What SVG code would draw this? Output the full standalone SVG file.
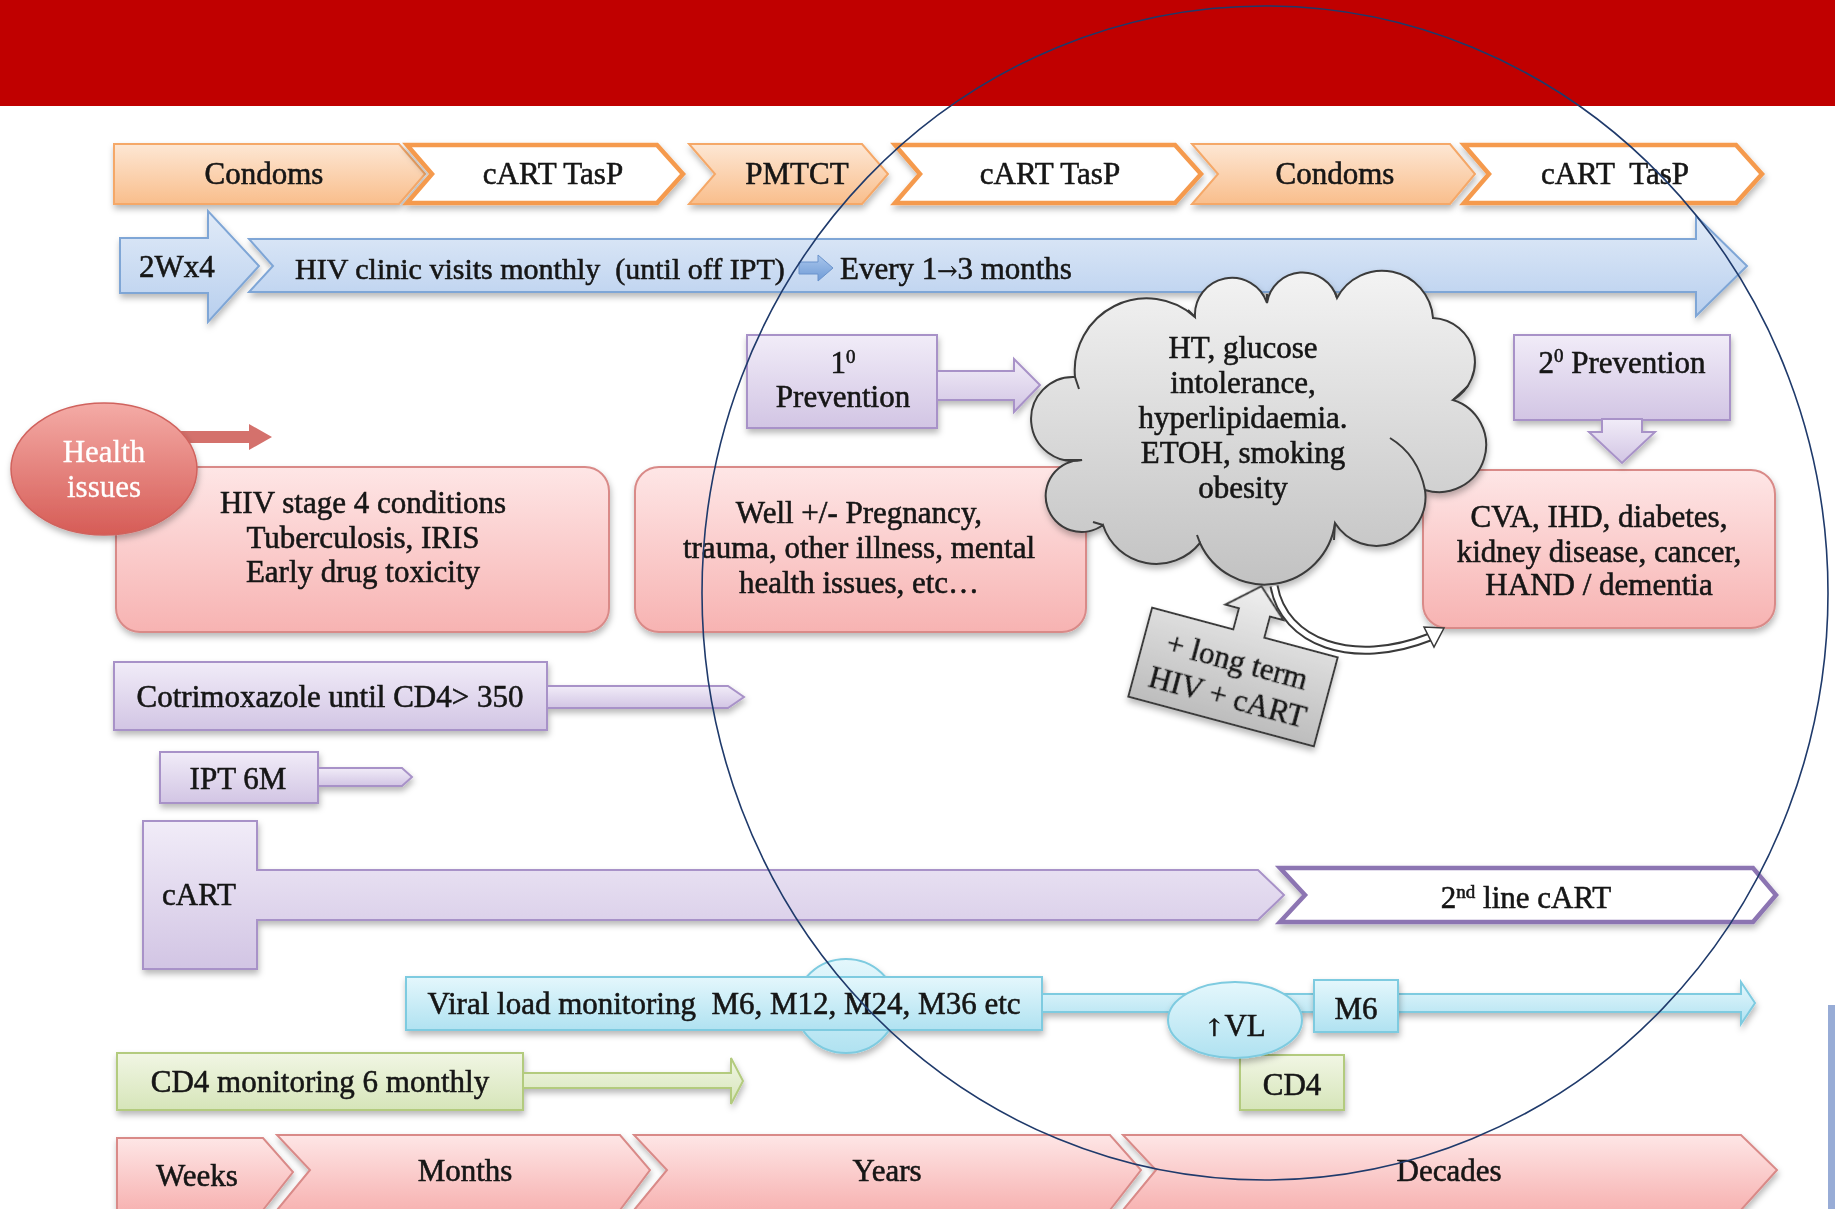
<svg xmlns="http://www.w3.org/2000/svg" width="1835" height="1209" viewBox="0 0 1835 1209">
<defs>
<style>
.t{font-family:"Liberation Serif","Times New Roman",serif;font-size:31px;fill:#141414;stroke:#141414;stroke-width:0.55px;text-anchor:middle}
.ts{text-anchor:start}
.ar{font-family:"DejaVu Serif",serif;font-size:24px}
.peach{fill:url(#gPeach);stroke:#F5A868;stroke-width:2}
.wOr{fill:#fff;stroke:#F59A4E;stroke-width:4.5}
.blue{fill:url(#gBlue);stroke:#7FA6D6;stroke-width:2}
.purp{fill:url(#gPurp);stroke:#A892C8;stroke-width:2}
.wPu{fill:#fff;stroke:#8C74B2;stroke-width:4.5}
.pink{fill:url(#gPink);stroke:#D98A88;stroke-width:2}
.cyan{fill:url(#gCyan);stroke:#7ECBE0;stroke-width:2}
.green{fill:url(#gGreen);stroke:#B3CB7E;stroke-width:2}
.sh{filter:url(#shadow)}
</style>
<filter id="shadow" x="-10%" y="-15%" width="125%" height="145%">
<feDropShadow dx="1" dy="4" stdDeviation="3" flood-color="#000" flood-opacity="0.28"/>
</filter>
<linearGradient id="gPeach" x1="0" y1="0" x2="0" y2="1"><stop offset="0" stop-color="#FDE7D4"/><stop offset="1" stop-color="#F9BE8C"/></linearGradient>
<linearGradient id="gBlue" x1="0" y1="0" x2="0" y2="1"><stop offset="0" stop-color="#E1EBF8"/><stop offset="1" stop-color="#B8CFEE"/></linearGradient>
<linearGradient id="gBlueD" x1="0" y1="0" x2="0" y2="1"><stop offset="0" stop-color="#A9C6EC"/><stop offset="1" stop-color="#6F9BD6"/></linearGradient>
<linearGradient id="gPurp" x1="0" y1="0" x2="0" y2="1"><stop offset="0" stop-color="#F1ECF8"/><stop offset="1" stop-color="#D2C5E4"/></linearGradient>
<linearGradient id="gPink" x1="0" y1="0" x2="0" y2="1"><stop offset="0" stop-color="#FEE6E6"/><stop offset="1" stop-color="#F7B3B2"/></linearGradient>
<linearGradient id="gCyan" x1="0" y1="0" x2="0" y2="1"><stop offset="0" stop-color="#E4F7FC"/><stop offset="1" stop-color="#B0E2F1"/></linearGradient>
<linearGradient id="gGreen" x1="0" y1="0" x2="0" y2="1"><stop offset="0" stop-color="#F1F6E4"/><stop offset="1" stop-color="#D6E5B9"/></linearGradient>
<linearGradient id="gRed" x1="0" y1="0" x2="0" y2="1"><stop offset="0" stop-color="#F4ABA6"/><stop offset="1" stop-color="#D65C56"/></linearGradient>
<linearGradient id="gGray" x1="0" y1="0" x2="0" y2="1"><stop offset="0" stop-color="#F3F3F3"/><stop offset="1" stop-color="#C2C2C2"/></linearGradient>
<linearGradient id="gGray2" x1="0" y1="0" x2="0" y2="1"><stop offset="0" stop-color="#EFEFEF"/><stop offset="1" stop-color="#BDBDBD"/></linearGradient>
</defs>

<rect x="0" y="0" width="1835" height="106" fill="#C00000"/>

<!-- Row 1: prevention chevrons -->
<g id="condoms1" class="sh"><polygon class="peach" points="114,144 399,144 425,174 399,204 114,204"/><text class="t" x="264" y="184">Condoms</text></g>
<g id="carttasp1" class="sh"><polygon class="wOr" points="407,145 657,145 683,174 657,203 407,203 432,174"/><text class="t" x="553" y="184">cART TasP</text></g>
<g id="pmtct" class="sh"><polygon class="peach" points="689,144 862,144 888,174 862,204 689,204 715,174"/><text class="t" x="797" y="184">PMTCT</text></g>
<g id="carttasp2" class="sh"><polygon class="wOr" points="895,145 1175,145 1201,174 1175,203 895,203 920,174"/><text class="t" x="1050" y="184">cART TasP</text></g>
<g id="condoms2" class="sh"><polygon class="peach" points="1192,144 1450,144 1475,174 1450,204 1192,204 1218,174"/><text class="t" x="1335" y="184">Condoms</text></g>
<g id="carttasp3" class="sh"><polygon class="wOr" points="1464,145 1736,145 1762,174 1736,203 1464,203 1489,174"/><text class="t" x="1615" y="184" xml:space="preserve">cART  TasP</text></g>

<!-- Row 2: clinic visits -->
<g id="twoweeks" class="sh"><polygon class="blue" points="120,238 208,238 208,211 259,266 208,322 208,293 120,293"/><text class="t" x="177" y="277">2Wx4</text></g>
<g id="clinic" class="sh"><polygon class="blue" points="249,239 1696,239 1696,216 1747,266 1696,316 1696,292 249,292 273,266"/>
<text class="t ts" x="295" y="279" font-size="30" xml:space="preserve" style="font-size:30px">HIV clinic visits monthly  (until off IPT)</text>
<polygon fill="url(#gBlueD)" stroke="#6A93CC" stroke-width="1" points="799,262 818,262 818,255 833,268 818,281 818,274 799,274"/>
<text class="t ts" x="840" y="279">Every 1<tspan class="ar">→</tspan>3 months</text></g>

<!-- Health issues -->
<g id="health-arrow"><polygon fill="#D4716C" points="175,431 249,431 249,424 272,437 249,450 249,443 175,443"/></g>
<g id="box-stage4" class="sh"><rect class="pink" x="116" y="467" width="493" height="165" rx="24"/>
<text class="t" x="363" y="513">HIV stage 4 conditions</text><text class="t" x="363" y="548">Tuberculosis, IRIS</text><text class="t" x="363" y="582">Early drug toxicity</text></g>
<g id="health" class="sh"><ellipse cx="104" cy="469" rx="93" ry="66" fill="url(#gRed)" stroke="#D0625D" stroke-width="1.5"/>
<text class="t" x="104" y="462" style="fill:#fff;stroke:#fff;stroke-width:0.3px">Health</text><text class="t" x="104" y="497" style="fill:#fff;stroke:#fff;stroke-width:0.3px">issues</text></g>
<g id="box-well" class="sh"><rect class="pink" x="635" y="467" width="451" height="165" rx="24"/>
<text class="t" x="859" y="523">Well +/- Pregnancy,</text><text class="t" x="859" y="558">trauma, other illness, mental</text><text class="t" x="859" y="593">health issues, etc…</text></g>
<g id="box-cva" class="sh"><rect class="pink" x="1423" y="470" width="352" height="158" rx="24"/>
<text class="t" x="1599" y="527">CVA, IHD, diabetes,</text><text class="t" x="1599" y="562">kidney disease, cancer,</text><text class="t" x="1599" y="595">HAND / dementia</text></g>

<!-- Prevention boxes -->
<g id="prev1" class="sh"><rect class="purp" x="747" y="335" width="190" height="93"/>
<polygon class="purp" points="937,371 1014,371 1014,359 1040,385 1014,412 1014,400 937,400"/>
<text class="t" x="843" y="373">1<tspan dy="-10" font-size="19">0</tspan></text><text class="t" x="843" y="407">Prevention</text></g>
<g id="prev2" class="sh"><rect class="purp" x="1514" y="335" width="216" height="85"/>
<polygon class="purp" points="1602,419 1642,419 1642,432 1655,432 1622,463 1589,432 1602,432"/>
<text class="t" x="1622" y="373">2<tspan dy="-11" font-size="19">0</tspan><tspan dy="11"> Prevention</tspan></text></g>

<!-- Cloud -->
<g id="cloud" class="sh">
<path d="M1075,377 A72,72 0 0 1 1195,317 A37,37 0 0 1 1267,303 A36,36 0 0 1 1337,298 A51,51 0 0 1 1433,318 A44,44 0 0 1 1453,400 A47,47 0 0 1 1425,490 A49,49 0 0 1 1335,523 A71,71 0 0 1 1200,543 A56,56 0 0 1 1103,525 A36,36 0 1 1 1082,460 A42,42 0 1 1 1075,377 Z" fill="url(#gGray)" stroke="#3A3A3A" stroke-width="2"/>
<path d="M1390,438 Q1418,455 1425,490 M1453,400 L1468,386 M1082,460 L1064,460 M1103,525 L1093,522 M1335,523 L1334,540 M1200,543 L1197,535 M1075,377 L1079,389 M1195,317 L1188,310 M1267,303 L1267,294 M1337,298 L1335,292" fill="none" stroke="#3A3A3A" stroke-width="2"/>
<text class="t" x="1243" y="358">HT, glucose</text><text class="t" x="1243" y="393">intolerance,</text><text class="t" x="1243" y="428">hyperlipidaemia.</text><text class="t" x="1243" y="463">ETOH, smoking</text><text class="t" x="1243" y="498">obesity</text>
</g>

<!-- Connectors -->
<g id="connectors">
<path d="M1274,586 C1284,642 1352,668 1430,637" fill="none" stroke="#3A3A3A" stroke-width="9"/>
<path d="M1274,586 C1284,642 1352,668 1430,637" fill="none" stroke="#fff" stroke-width="5"/>
<polygon points="1444,628 1424,627 1434,647" fill="#fff" stroke="#3A3A3A" stroke-width="1.5"/>
</g>

<!-- Long term callout -->
<g id="longterm" class="sh" transform="translate(1233,677) rotate(15)">
<path d="M-96,-46 L-12,-46 L-12,-68 L-26,-68 L4,-95 L34,-68 L20,-68 L20,-46 L96,-46 L96,46 L-96,46 Z" fill="url(#gGray2)" stroke="#3A3A3A" stroke-width="2"/>
<text class="t" x="0" y="-6">+ long term</text><text class="t" x="0" y="31">HIV + cART</text>
</g>

<!-- Prophylaxis -->
<g id="cotrim" class="sh"><polygon class="purp" points="547,686 728,686 744,697 728,708 547,708"/><rect class="purp" x="114" y="662" width="433" height="68"/>
<text class="t" x="330" y="707">Cotrimoxazole until CD4&gt; 350</text></g>
<g id="ipt" class="sh"><polygon class="purp" points="318,768 402,768 412,777 402,786 318,786"/><rect class="purp" x="160" y="752" width="158" height="51"/>
<text class="t" x="238" y="789">IPT 6M</text></g>
<g id="cart" class="sh"><polygon class="purp" points="143,821 257,821 257,870 1258,870 1284,895 1258,920 257,920 257,969 143,969"/>
<text class="t" x="199" y="905">cART</text></g>
<g id="cart2" class="sh"><polygon class="wPu" points="1280,868 1753,868 1776,895 1753,922 1280,922 1305,895"/>
<text class="t" x="1526" y="908">2<tspan dy="-10" font-size="19">nd</tspan><tspan dy="10"> line cART</tspan></text></g>

<!-- Monitoring -->
<g id="viralload" class="sh">
<ellipse class="cyan" cx="846" cy="1006" rx="50" ry="47"/>
<polygon class="cyan" points="1040,994 1741,994 1741,982 1755,1003 1741,1024 1741,1012 1040,1012"/>
<rect class="cyan" x="406" y="977" width="636" height="53"/>
<text class="t" x="724" y="1014" xml:space="preserve">Viral load monitoring  M6, M12, M24, M36 etc</text></g>
<g id="cd4small" class="sh"><rect class="green" x="1240" y="1055" width="104" height="55"/><text class="t" x="1292" y="1095">CD4</text></g>
<g id="vlup" class="sh"><ellipse class="cyan" cx="1235" cy="1020" rx="67" ry="38"/><text class="t" x="1235" y="1036"><tspan class="ar">↑</tspan>VL</text></g>
<g id="m6" class="sh"><rect class="cyan" x="1314" y="980" width="84" height="52"/><text class="t" x="1356" y="1019">M6</text></g>
<g id="cd4mon" class="sh"><polygon class="green" points="523,1073 731,1073 731,1058 743,1081 731,1104 731,1088 523,1088"/><rect class="green" x="117" y="1053" width="406" height="57"/>
<text class="t" x="320" y="1092">CD4 monitoring 6 monthly</text></g>

<!-- Timeline -->
<g id="weeks" class="sh"><polygon class="pink" points="117,1138 263,1138 293,1172 263,1210 117,1210"/><text class="t" x="197" y="1186">Weeks</text></g>
<g id="months" class="sh"><polygon class="pink" points="277,1135 620,1135 650,1170 620,1210 277,1210 310,1170"/><text class="t" x="465" y="1181">Months</text></g>
<g id="years" class="sh"><polygon class="pink" points="634,1135 1110,1135 1141,1170 1110,1210 634,1210 667,1170"/><text class="t" x="887" y="1181">Years</text></g>
<g id="decades" class="sh"><polygon class="pink" points="1123,1135 1741,1135 1777,1170 1741,1210 1123,1210 1156,1170"/><text class="t" x="1449" y="1181">Decades</text></g>

<rect x="1828" y="1005" width="7" height="204" fill="#7690C8" opacity="0.75"/>

<ellipse cx="1265" cy="593" rx="563" ry="587" fill="none" stroke="#1F3A6B" stroke-width="1.6"/>
</svg>
